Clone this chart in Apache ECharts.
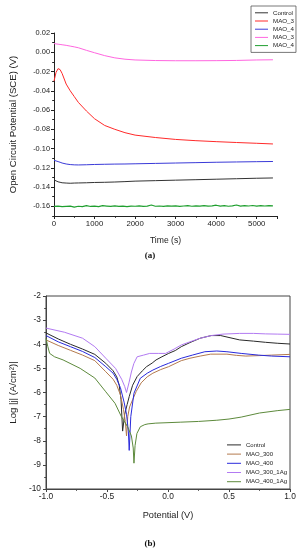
<!DOCTYPE html>
<html>
<head>
<meta charset="utf-8">
<script src="https://cdn.jsdelivr.net/npm/echarts@6/dist/echarts.min.js"></script>
<style>html,body{margin:0;padding:0;background:#fff}#c{width:300px;height:550px}</style>
</head>
<body>
<div id="c"></div>
<script>
// ---------- (a) Open circuit potential vs time ----------
var timeS = [0,50,100,150,200,300,400,500,600,800,1000,1250,1500,1750,2000,2500,3000,3500,4000,4500,5000,5400];
var ocpControl = [-0.1325,-0.1335,-0.1345,-0.1350,-0.1355,-0.1358,-0.1360,-0.1358,-0.1357,-0.1355,-0.1352,-0.1350,-0.1347,-0.1343,-0.1338,-0.1333,-0.1328,-0.1323,-0.1318,-0.1313,-0.1308,-0.1305];
var ocpMAO3 = [-0.030,-0.021,-0.017,-0.018,-0.022,-0.033,-0.040,-0.046,-0.052,-0.061,-0.069,-0.076,-0.080,-0.0835,-0.086,-0.0885,-0.0905,-0.0918,-0.0928,-0.0937,-0.0945,-0.0952];
var ocpMAO4 = [-0.1122,-0.1128,-0.1135,-0.1142,-0.1150,-0.1160,-0.1166,-0.1169,-0.1170,-0.1168,-0.1165,-0.1163,-0.1161,-0.1160,-0.1158,-0.1154,-0.1150,-0.1146,-0.1142,-0.1139,-0.1136,-0.1134];
var ocpMAO3Ag = [0.0090,0.0087,0.0084,0.0081,0.0078,0.0072,0.0064,0.0056,0.0047,0.0020,-0.0005,-0.0035,-0.0058,-0.0072,-0.0080,-0.0086,-0.0088,-0.0088,-0.0087,-0.0085,-0.0080,-0.0078];
var timeG = [0,100,200,300,400,500,600,700,800,900,1000,1100,1200,1300,1400,1500,1600,1700,1800,1900,2000,2100,2200,2300,2400,2500,2600,2700,2800,2900,3000,3100,3200,3300,3400,3500,3600,3700,3800,3900,4000,4100,4200,4300,4400,4500,4600,4700,4800,4900,5000,5100,5200,5300,5400];
var ocpMAO4Ag = [-0.1601,-0.1598,-0.1603,-0.1600,-0.1597,-0.1608,-0.1599,-0.1602,-0.1592,-0.1601,
 -0.1598,-0.1603,-0.1593,-0.1597,-0.1601,-0.1594,-0.1600,-0.1598,-0.1602,-0.1597,
 -0.1599,-0.1595,-0.1601,-0.1597,-0.1586,-0.1599,-0.1596,-0.1600,-0.1594,-0.1598,
 -0.1595,-0.1601,-0.1596,-0.1593,-0.1599,-0.1595,-0.1597,-0.1592,-0.1598,-0.1594,
 -0.1588,-0.1597,-0.1593,-0.1599,-0.1594,-0.1586,-0.1597,-0.1593,-0.1596,-0.1591,
 -0.1598,-0.1593,-0.1596,-0.1592,-0.1595];
var ocpNames = ['a_Control','a_MAO_3','a_MAO_4','a_MAO_3b','a_MAO_4b'];
var ocpLabels = ['Control','MAO_3','MAO_4','MAO_3','MAO_4'];
var ocpYTicks = [-0.16,-0.14,-0.12,-0.10,-0.08,-0.06,-0.04,-0.02,0.00,0.02];
var ocpYMinor = [-0.17,-0.15,-0.13,-0.11,-0.09,-0.07,-0.05,-0.03,-0.01,0.01];

// ---------- (b) Polarisation curves ----------
var ctrlV = [-1.0,-0.9,-0.8,-0.7,-0.6,-0.51,-0.45,-0.42,-0.40,-0.385,-0.372,-0.355,-0.335,-0.318,-0.29,-0.253,-0.21,-0.176,-0.13,-0.098,-0.05,0.005,0.06,0.109,0.18,0.264,0.354,0.432,0.5,0.587,0.7,0.8,0.9,1.0];
var ctrlJ = [-3.53,-3.78,-4.0,-4.2,-4.42,-4.79,-5.1,-5.35,-5.7,-6.3,-7.6,-6.9,-6.5,-6.17,-5.7,-5.34,-5.1,-4.93,-4.78,-4.65,-4.52,-4.38,-4.26,-4.1,-3.93,-3.75,-3.64,-3.64,-3.72,-3.82,-3.87,-3.92,-3.96,-3.99];
var m300V = [-1.0,-0.9,-0.8,-0.7,-0.6,-0.51,-0.45,-0.42,-0.39,-0.365,-0.35,-0.34,-0.33,-0.315,-0.29,-0.26,-0.22,-0.17,-0.124,-0.06,0.005,0.109,0.18,0.264,0.35,0.483,0.56,0.638,0.75,0.85,1.0];
var m300J = [-3.82,-4.05,-4.25,-4.45,-4.68,-5.14,-5.45,-5.7,-6.1,-6.7,-7.2,-7.8,-7.0,-6.6,-6.3,-5.95,-5.6,-5.35,-5.2,-5.05,-4.93,-4.68,-4.58,-4.49,-4.41,-4.41,-4.46,-4.49,-4.47,-4.45,-4.42];
var m400V = [-1.0,-0.9,-0.8,-0.7,-0.6,-0.51,-0.45,-0.42,-0.39,-0.36,-0.34,-0.325,-0.318,-0.305,-0.279,-0.227,-0.17,-0.124,-0.06,0.005,0.109,0.2,0.302,0.4,0.483,0.6,0.742,0.85,1.0];
var m400J = [-3.64,-3.9,-4.1,-4.3,-4.55,-4.93,-5.2,-5.45,-5.8,-6.4,-6.9,-7.6,-8.4,-7.0,-6.03,-5.41,-5.2,-5.07,-4.92,-4.79,-4.58,-4.45,-4.31,-4.28,-4.31,-4.38,-4.45,-4.49,-4.52];
var m300AgV = [-1.0,-0.85,-0.7,-0.6,-0.51,-0.43,-0.38,-0.355,-0.34,-0.32,-0.3,-0.28,-0.253,-0.2,-0.15,-0.08,-0.02,0.05,0.109,0.18,0.264,0.354,0.45,0.587,0.7,0.8,0.9,1.0];
var m300AgJ = [-3.33,-3.5,-3.75,-4.1,-4.58,-5.0,-5.45,-5.75,-6.0,-5.6,-5.15,-4.8,-4.52,-4.45,-4.38,-4.38,-4.38,-4.2,-4.03,-3.9,-3.75,-3.64,-3.58,-3.55,-3.55,-3.57,-3.58,-3.59];
var m400AgV = [-1.0,-0.985,-0.97,-0.93,-0.86,-0.72,-0.6,-0.51,-0.434,-0.382,-0.331,-0.3,-0.285,-0.279,-0.27,-0.255,-0.227,-0.19,-0.163,-0.1,0.0,0.1,0.25,0.4,0.5,0.6,0.75,0.9,1.0];
var m400AgJ = [-3.76,-4.1,-4.38,-4.52,-4.65,-5.0,-5.4,-5.97,-6.45,-7.0,-7.42,-7.8,-8.3,-8.93,-8.2,-7.7,-7.42,-7.33,-7.3,-7.27,-7.25,-7.23,-7.2,-7.15,-7.1,-7.02,-6.85,-6.75,-6.7];
var polNames = ['Control','MAO_300','MAO_400','MAO_300_1Ag','MAO_400_1Ag'];

function pairs(xs, ys){ return xs.map(function(x,i){ return [x, ys[i]]; }); }

var FONT = 'Liberation Sans';
var AX = '#222';
var chart = echarts.init(document.getElementById('c'), null, {renderer:'canvas'});

var topColors = ['#333333','#ff2a2a','#3a3ad8','#ff66e0','#1f9f2f'];
var topData = [ocpControl, ocpMAO3, ocpMAO4, ocpMAO3Ag];
var polColors = ['#2a2a2a','#b47a4e','#2a2adc','#b27af2','#5d8a3c'];
var polData = [pairs(ctrlV,ctrlJ), pairs(m300V,m300J), pairs(m400V,m400J), pairs(m300AgV,m300AgJ), pairs(m400AgV,m400AgJ)];

var series = [];
for (var i = 0; i < 4; i++) {
  series.push({name: ocpNames[i], type:'line', xAxisIndex:0, yAxisIndex:0, symbol:'none',
    data: pairs(timeS, topData[i]), lineStyle:{color: topColors[i], width:1}, itemStyle:{color: topColors[i]}, animation:false});
}
series.push({name: ocpNames[4], type:'line', xAxisIndex:0, yAxisIndex:0, symbol:'none',
  data: pairs(timeG, ocpMAO4Ag), lineStyle:{color: topColors[4], width:1.2}, itemStyle:{color: topColors[4]}, animation:false});
for (var k = 0; k < 5; k++) {
  series.push({name: polNames[k], type:'line', xAxisIndex:1, yAxisIndex:2, symbol:'none',
    data: polData[k], lineStyle:{color: polColors[k], width:1}, itemStyle:{color: polColors[k]}, animation:false});
}

var option = {
  backgroundColor:'#ffffff',
  animation:false,
  textStyle:{fontFamily: FONT},
  grid:[
    {left:53, top:33, width:224, height:183, show:false},
    {left:32, top:296, width:258, height:193, show:true, borderColor:'#444', borderWidth:1, backgroundColor:'transparent'}
  ],
  legend:[
    {data: ocpNames, orient:'vertical', left:251, top:6, padding:[3,2,3,4], itemGap:0.6, itemWidth:13, itemHeight:1, itemTextGap:3,
     icon:'rect', borderColor:'#555', borderWidth:0.8, selectedMode:false,
     formatter:function(n){ return ocpLabels[ocpNames.indexOf(n)]; },
     textStyle:{fontSize:6.2, color:'#222', fontFamily:FONT, lineHeight:7.6}},
    {data: polNames, orient:'vertical', left:227, top:441, padding:0, itemGap:1.4, itemWidth:14, itemHeight:1, itemTextGap:4,
     icon:'rect', selectedMode:false, textStyle:{fontSize:6.0, color:'#222', fontFamily:FONT, lineHeight:7.8}}
  ],
  xAxis:[
    {type:'value', gridIndex:0, min:0, max:5500, interval:1000,
     name:'Time (s)', nameLocation:'middle', nameGap:20, nameTextStyle:{fontSize:8.6, color:'#222', fontFamily:FONT},
     axisLine:{onZero:false, lineStyle:{color:AX, width:1}}, axisTick:{length:3, lineStyle:{color:AX}},
     minorTick:{show:true, splitNumber:2, length:1.8, lineStyle:{color:AX}},
     axisLabel:{fontSize:7.8, color:'#222', margin:4, showMaxLabel:false, formatter:function(v){ return String(v); }}, splitLine:{show:false}},
    {type:'value', gridIndex:1, min:-1, max:1, interval:0.5,
     name:'Potential (V)', nameLocation:'middle', nameGap:22, nameTextStyle:{fontSize:9.2, color:'#222', fontFamily:FONT},
     axisLine:{onZero:false, lineStyle:{color:'#444', width:1}}, axisTick:{length:3, lineStyle:{color:'#444'}},
     minorTick:{show:true, splitNumber:2, length:1.8, lineStyle:{color:'#444'}},
     axisLabel:{fontSize:8.4, color:'#222', margin:4, formatter:function(v){ return v.toFixed(1); }}, splitLine:{show:false}}
  ],
  yAxis:[
    {type:'value', gridIndex:0, min:-0.17, max:0.02,
     name:'Open Circuit Potential (SCE) (V)', nameLocation:'middle', nameGap:36, nameTextStyle:{fontSize:9.6, color:'#222', fontFamily:FONT},
     axisLine:{onZero:false, lineStyle:{color:AX, width:1}},
     axisTick:{length:3, lineStyle:{color:AX}, customValues: ocpYTicks},
     axisLabel:{fontSize:7.4, color:'#222', margin:4, customValues: ocpYTicks, formatter:function(v){ return v.toFixed(2); }},
     splitLine:{show:false}},
    {type:'value', gridIndex:0, min:-0.17, max:0.02, position:'left',
     axisLine:{show:false, onZero:false}, axisTick:{length:1.8, lineStyle:{color:AX}, customValues: ocpYMinor},
     axisLabel:{show:false}, splitLine:{show:false}},
    {type:'value', gridIndex:1, min:-10, max:-2, interval:1,
     name:'Log |j| (A/cm²)|', nameLocation:'middle', nameGap:21, nameTextStyle:{fontSize:9.6, color:'#222', fontFamily:FONT},
     axisLine:{onZero:false, lineStyle:{color:'#444', width:1}}, axisTick:{length:3, lineStyle:{color:'#444'}},
     minorTick:{show:true, splitNumber:2, length:1.8, lineStyle:{color:'#444'}},
     axisLabel:{fontSize:8.4, color:'#222', margin:5}, splitLine:{show:false}}
  ],
  graphic:[
    {type:'text', left:'center', top:251, style:{text:'(a)', font:'bold 9px "Liberation Serif"', fill:'#111'}},
    {type:'text', left:'center', top:539, style:{text:'(b)', font:'bold 9px "Liberation Serif"', fill:'#111'}}
  ],
  series: series
};
chart.setOption(option);
</script>
</body>
</html>
